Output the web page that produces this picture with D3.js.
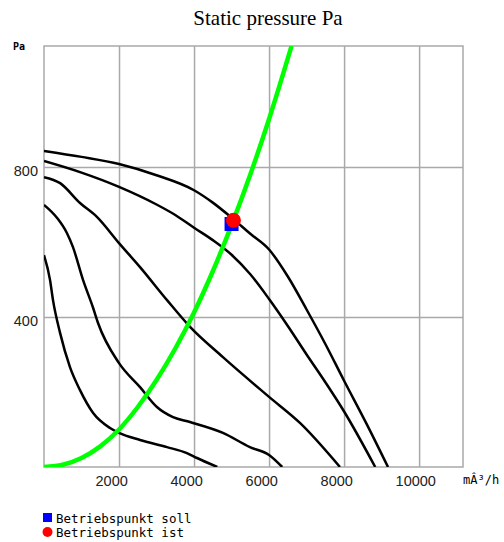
<!DOCTYPE html>
<html lang="en">
<head>
    <meta charset="UTF-8">
    <title>Static pressure Pa</title>
    <script src="https://cdn.jsdelivr.net/npm/d3@7"></script>
    <style>
        html, body {
            margin: 0;
            background: #fff;
        }

        .grid line {
            stroke: #a9a9a9;
            stroke-width: 1.5px;
        }

        .grid text {
            font-family: "Liberation Sans", Arial, sans-serif;
            font-size: 14.5px;
            fill: #222;
        }

        .fan {
            fill: none;
            stroke: #000;
            stroke-width: 2.5px;
            stroke-linejoin: round;
        }

        .mono {
            font-family: "DejaVu Sans Mono", monospace;
            fill: #000;
        }
    </style>
</head>
<body>
<div class="chart"></div>

<script>
    // axis ticks
    var xTicks = [2000, 4000, 6000, 8000, 10000];
    var yTicks = [400, 800];

    // fan curves, [m3/h, Pa]
    var curve1 = [[0, 843], [1000, 827], [2000, 808], [3000, 778], [4000, 738], [4500, 705], [5000, 665],
        [5500, 622], [6000, 580], [6500, 508], [7000, 420], [7500, 328], [8000, 230], [8600, 115], [9170, 0]];
    var curve2 = [[0, 816], [1000, 785], [2000, 747], [3000, 700], [3500, 672], [4000, 638], [4500, 605],
        [5000, 566], [5500, 514], [6000, 448], [6500, 376], [7000, 300], [7500, 226], [8000, 148], [8830, 0]];
    var curve3 = [[0, 773], [430, 757], [960, 704], [1410, 667], [2000, 597], [2560, 533], [3280, 445],
        [3900, 373], [4770, 293], [6000, 187], [6830, 117], [7890, 0]];
    var curve4 = [[0, 699], [350, 664], [610, 624], [770, 587], [1040, 499], [1310, 424], [1440, 384],
        [2000, 277], [2560, 213], [3010, 160], [3440, 133], [3890, 120], [4770, 91], [5490, 53],
        [6000, 32], [6350, 0]];
    var curve5 = [[0, 565], [160, 499], [240, 445], [430, 357], [690, 267], [960, 205], [1310, 144],
        [1760, 104], [2000, 91], [2560, 72], [3280, 53], [3810, 37], [4080, 24], [4620, 0]];

    // system curve
    var system = [[0, 0], [500, 6], [1000, 24], [1500, 55], [2000, 100], [2500, 160], [3000, 232],
        [3500, 316], [4000, 412], [4500, 522], [5000, 645], [5500, 780], [6000, 928], [6600, 1123]];

    // operating points
    var pointSoll = [5000, 648];
    var pointIst = [5050, 658];

    var curves = [curve1, curve2, curve3, curve4, curve5];

    var margin = {left: 44, top: 46};
    var width = 419;
    var height = 421;

    var svg = d3.select('.chart').append('svg').attr('width', 504).attr('height', 542);

    svg.append('text')
        .attr('x', 268).attr('y', 25)
        .attr('text-anchor', 'middle')
        .style('font-family', '"Liberation Serif", "Times New Roman", serif')
        .style('font-size', '21px')
        .text('Static pressure Pa');

    var x = d3.scaleLinear().domain([0, 11170]).range([0, width]);
    var y = d3.scaleLinear().domain([0, 1122.7]).range([height, 0]);

    var chartGroup = svg.append('g')
        .attr('transform', 'translate(' + margin.left + ',' + margin.top + ')');

    chartGroup.append('clipPath').attr('id', 'plot')
        .append('rect').attr('width', width).attr('height', height);

    // grid + labels
    var xAxis = d3.axisBottom(x).tickValues(xTicks).tickSize(-height).tickFormat(d3.format('d'));
    var gx = chartGroup.append('g').attr('class', 'grid')
        .attr('transform', 'translate(0,' + height + ')').call(xAxis);
    gx.selectAll('text').attr('text-anchor', 'start').attr('x', -24).attr('y', 9).attr('dy', '0.71em');

    var yAxis = d3.axisLeft(y).tickValues(yTicks).tickSize(-width).tickFormat(d3.format('d'));
    var gy = chartGroup.append('g').attr('class', 'grid').call(yAxis);
    gy.selectAll('text').attr('x', -6).attr('dy', '0.6em');

    chartGroup.selectAll('.grid .domain').remove();

    chartGroup.append('rect')
        .attr('width', width).attr('height', height)
        .attr('fill', 'none').attr('stroke', '#a9a9a9').attr('stroke-width', 1.5);

    var line = d3.line()
        .x(function (d) {
            return x(d[0])
        })
        .y(function (d) {
            return y(d[1])
        })
        .curve(d3.curveMonotoneX);

    var plot = chartGroup.append('g').attr('clip-path', 'url(#plot)');

    plot.selectAll('.fan')
        .data(curves)
        .enter().append('path')
        .attr('class', 'fan')
        .attr('d', line);

    plot.append('path')
        .attr('d', line(system))
        .attr('fill', 'none')
        .attr('stroke', '#00ff00')
        .attr('stroke-width', 4.5);

    // operating points
    chartGroup.append('rect')
        .attr('x', x(pointSoll[0]) - 7).attr('y', y(pointSoll[1]) - 7)
        .attr('width', 14).attr('height', 14)
        .attr('fill', '#0000ff');
    chartGroup.append('circle')
        .attr('cx', x(pointIst[0])).attr('cy', y(pointIst[1]))
        .attr('r', 7.5)
        .attr('fill', '#ff0000');

    // unit labels
    svg.append('text').attr('class', 'mono')
        .attr('x', 13).attr('y', 50)
        .style('font-size', '10px').style('font-weight', 'bold')
        .text('Pa');
    svg.append('text').attr('class', 'mono')
        .attr('x', 463).attr('y', 484)
        .style('font-size', '12px')
        .text('mÂ³/h');

    // legend
    var legend = svg.append('g').attr('transform', 'translate(43,513)');
    legend.append('rect').attr('width', 9).attr('height', 9).attr('fill', '#0000ff');
    legend.append('circle').attr('cx', 4.5).attr('cy', 19).attr('r', 5).attr('fill', '#ff0000');
    legend.append('text').attr('class', 'mono')
        .attr('x', 13).attr('y', 9.5)
        .style('font-size', '12.5px')
        .text('Betriebspunkt soll');
    legend.append('text').attr('class', 'mono')
        .attr('x', 13).attr('y', 23.5)
        .style('font-size', '12.5px')
        .text('Betriebspunkt ist');
</script>
</body>
</html>
